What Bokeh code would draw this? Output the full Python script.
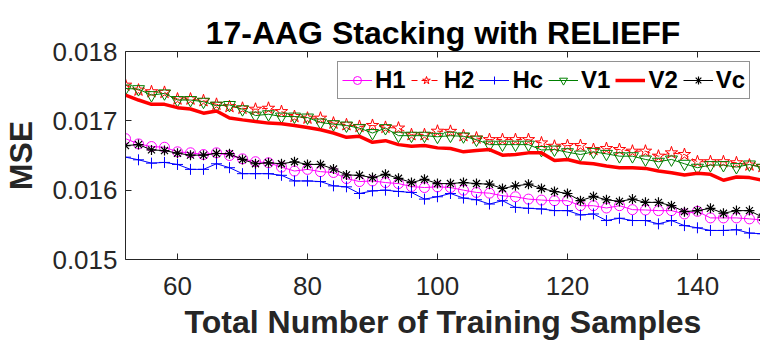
from bokeh.plotting import figure
from bokeh.models import Range1d, LinearAxis, FixedTicker, Legend, LegendItem
from bokeh.embed import file_html
from bokeh.resources import INLINE

# Training set sizes (x axis)
samples = list(range(52, 151, 2))

# Mean squared error for each stacking variant
h1 = [0.016743, 0.016667, 0.016629, 0.016619, 0.016553, 0.016539, 0.016514, 0.016539, 0.016500,
      0.016452, 0.016410, 0.016395, 0.016333, 0.016276, 0.016300, 0.016267, 0.016255,
      0.016167, 0.016124, 0.016133, 0.016110, 0.016095, 0.016052, 0.016038, 0.016048,
      0.016038, 0.016000, 0.015967, 0.015957, 0.015919, 0.015905, 0.015871, 0.015857,
      0.015848, 0.015848, 0.015776, 0.015776, 0.015743, 0.015776, 0.015719, 0.015714,
      0.015705, 0.015705, 0.015657, 0.015695, 0.015600, 0.015600, 0.015600, 0.015586, 0.015571]
h2 = [0.017514, 0.017443, 0.017419, 0.017410, 0.017314, 0.017314, 0.017290, 0.017238, 0.017205,
      0.017181, 0.017167, 0.017181, 0.017133, 0.017062, 0.017038, 0.017038, 0.016967,
      0.016943, 0.016919, 0.016933, 0.016905, 0.016895, 0.016800, 0.016800, 0.016850,
      0.016848, 0.016786, 0.016752, 0.016729, 0.016729, 0.016729, 0.016729, 0.016681,
      0.016633, 0.016643, 0.016643, 0.016586, 0.016600, 0.016586, 0.016562, 0.016562,
      0.016490, 0.016538, 0.016514, 0.016410, 0.016410, 0.016410, 0.016395, 0.016362, 0.016340]
hc = [0.016476, 0.016438, 0.016390, 0.016400, 0.016371, 0.016300, 0.016300, 0.016381, 0.016324,
      0.016238, 0.016238, 0.016238, 0.016214, 0.016133, 0.016133, 0.016124, 0.016062,
      0.016048, 0.015952, 0.015990, 0.016000, 0.015981, 0.015967, 0.015871, 0.015905,
      0.015952, 0.015886, 0.015862, 0.015800, 0.015848, 0.015752, 0.015738, 0.015729,
      0.015705, 0.015705, 0.015643, 0.015657, 0.015562, 0.015595, 0.015562, 0.015562,
      0.015514, 0.015562, 0.015489, 0.015457, 0.015419, 0.015419, 0.015429, 0.015381, 0.015371]
v1 = [0.017467, 0.017457, 0.017371, 0.017396, 0.017300, 0.017300, 0.017276, 0.017219, 0.017229,
      0.017167, 0.017076, 0.017095, 0.017062, 0.017062, 0.017048, 0.016976, 0.016952,
      0.016933, 0.016895, 0.016824, 0.016895, 0.016786, 0.016786, 0.016786, 0.016770,
      0.016786, 0.016776, 0.016729, 0.016657, 0.016657, 0.016657, 0.016657, 0.016580,
      0.016586, 0.016548, 0.016514, 0.016553, 0.016524, 0.016490, 0.016490, 0.016443,
      0.016410, 0.016443, 0.016381, 0.016324, 0.016362, 0.016362, 0.016333, 0.016371, 0.016324]
v2 = [0.017371, 0.017300, 0.017238, 0.017238, 0.017190, 0.017171, 0.017110, 0.017143, 0.017040,
      0.017014, 0.016990, 0.016967, 0.016957, 0.016933, 0.016905, 0.016871, 0.016824,
      0.016762, 0.016776, 0.016690, 0.016714, 0.016657, 0.016633, 0.016643, 0.016610,
      0.016600, 0.016553, 0.016571, 0.016586, 0.016505, 0.016514, 0.016538, 0.016538,
      0.016429, 0.016443, 0.016395, 0.016381, 0.016348, 0.016324, 0.016324, 0.016314,
      0.016276, 0.016252, 0.016219, 0.016243, 0.016229, 0.016143, 0.016190, 0.016181, 0.016143]
vc = [0.016643, 0.016657, 0.016581, 0.016571, 0.016533, 0.016505, 0.016505, 0.016529, 0.016526,
      0.016443, 0.016381, 0.016395, 0.016381, 0.016410, 0.016371, 0.016371, 0.016305,
      0.016219, 0.016214, 0.016181, 0.016229, 0.016171, 0.016110, 0.016157, 0.016095,
      0.016095, 0.016110, 0.016095, 0.016086, 0.016024, 0.016062, 0.016086, 0.016024,
      0.015981, 0.015952, 0.015848, 0.015910, 0.015862, 0.015838, 0.015871, 0.015824,
      0.015824, 0.015776, 0.015690, 0.015705, 0.015738, 0.015667, 0.015705, 0.015705, 0.015610]

x_ticks = [60, 80, 100, 120, 140]
y_ticks = [0.015, 0.016, 0.017, 0.018]
y_tick_labels = ["0.015", "0.016", "0.017", "0.018"]

FONT = "Liberation Sans"
INK = "#262626"

p = figure(width=760, height=342, output_backend="svg", toolbar_location=None,
           x_range=Range1d(52, 149.7), y_range=Range1d(0.015, 0.018),
           min_border_left=121, min_border_right=0, min_border_top=51,
           min_border_bottom=81, background_fill_color="white",
           border_fill_color="white", outline_line_color=None)
p.grid.visible = False

p.title.text = "17-AAG Stacking with RELIEFF"
p.title.text_font = FONT
p.title.text_font_size = "32px"
p.title.text_font_style = "bold"
p.title.text_color = "black"
p.title.align = "center"
p.title.standoff = 2

for ax in (p.xaxis[0], p.yaxis[0]):
    ax.axis_line_color = INK
    ax.major_tick_line_color = INK
    ax.major_tick_in = 6
    ax.major_tick_out = 0
    ax.minor_tick_line_color = None
    ax.major_label_text_font = FONT
    ax.major_label_text_font_size = "26px"
    ax.major_label_text_color = INK
    ax.axis_label_text_font = FONT
    ax.axis_label_text_font_size = "32px"
    ax.axis_label_text_font_style = "bold"
    ax.axis_label_text_color = INK

p.xaxis.ticker = FixedTicker(ticks=x_ticks)
p.xaxis.major_label_standoff = 17
p.xaxis.axis_label = "Total Number of Training Samples"
p.xaxis.axis_label_standoff = 6

p.yaxis.ticker = FixedTicker(ticks=y_ticks)
p.yaxis.major_label_overrides = dict(zip(y_ticks, y_tick_labels))
p.yaxis.major_label_standoff = 8
p.yaxis.axis_label = "MSE"
p.yaxis.axis_label_standoff = 10

# top edge of the box with inward ticks, no labels
top = LinearAxis(ticker=FixedTicker(ticks=x_ticks), axis_line_color=INK,
                 major_tick_line_color=INK, major_tick_in=6, major_tick_out=0,
                 minor_tick_line_color=None,
                 major_label_overrides={t: "" for t in x_ticks},
                 major_label_standoff=0)
p.add_layout(top, "above")

items = []

l = p.line(samples, h1, line_color="#FF00FF", line_width=1)
m = p.scatter(samples, h1, marker="circle", size=10, line_color="#FF00FF",
              fill_color=None, line_width=1)
items.append(LegendItem(label="H1", renderers=[l, m]))

l = p.line(samples, h2, line_color="#FF0000", line_width=1, line_dash="6 4")
m = p.scatter(samples, h2, marker="star", size=13, line_color="#FF0000",
              fill_color=None, line_width=1)
items.append(LegendItem(label="H2", renderers=[l, m]))

l = p.line(samples, hc, line_color="#0000FF", line_width=1)
m = p.scatter(samples, hc, marker="cross", size=11, line_color="#0000FF",
              line_width=1)
items.append(LegendItem(label="Hc", renderers=[l, m]))

l = p.line(samples, v1, line_color="#008000", line_width=1)
m = p.scatter(samples, v1, marker="inverted_triangle", size=12,
              line_color="#008000", fill_color=None, line_width=1)
items.append(LegendItem(label="V1", renderers=[l, m]))

l = p.line(samples, v2, line_color="#FF0000", line_width=3.5)
items.append(LegendItem(label="V2", renderers=[l]))

l = p.line(samples, vc, line_color="black", line_width=1)
m = p.scatter(samples, vc, marker="asterisk", size=10, line_color="black",
              line_width=1.2)
items.append(LegendItem(label="Vc", renderers=[l, m]))

legend = Legend(items=items, orientation="horizontal", location=(212, 160),
                label_text_font=FONT, label_text_font_size="24px",
                label_text_font_style="bold", label_text_color="black",
                glyph_width=30, glyph_height=20, label_standoff=3, spacing=5,
                padding=4, margin=0, border_line_color=INK, border_line_width=1,
                background_fill_color="white", background_fill_alpha=1)
p.add_layout(legend)

open("out.html", "w").write(file_html(p, INLINE))
